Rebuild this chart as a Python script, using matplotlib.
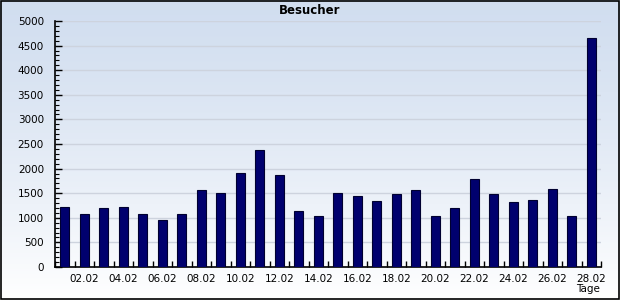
import numpy as np
import matplotlib
matplotlib.use('Agg')
import matplotlib.pyplot as plt
from matplotlib.ticker import MultipleLocator, FixedLocator

# Besucher pro Tag im Februar
days = [f"{d:02d}.02" for d in range(1, 29)]
visitors = [1210, 1070, 1190, 1210, 1070, 965, 1070, 1575, 1495, 1920,
            2370, 1860, 1130, 1030, 1495, 1435, 1350, 1475, 1555, 1030,
            1190, 1780, 1475, 1330, 1370, 1595, 1045, 4655]
y_max = 5000

W, H = 620, 300
fig = plt.figure(figsize=(W / 100, H / 100), dpi=100)

# Hintergrund mit Farbverlauf
bg = fig.add_axes([0, 0, 1, 1], zorder=-1)
grad = np.linspace(0, 1, 256).reshape(-1, 1)
top = np.array([0.82, 0.87, 0.94])
bottom = np.array([1.0, 1.0, 1.0])
img = top + (bottom - top) * grad[..., None] ** 1.3
bg.imshow(img, aspect='auto', extent=[0, 1, 0, 1], origin='upper')
bg.set_xlim(0, 1)
bg.set_ylim(0, 1)
bg.axis('off')
# schwarzer Rahmen
fig.patches.append(plt.Rectangle((0.001, 0.002), 0.997, 0.995, transform=fig.transFigure,
                                 fill=False, edgecolor='black', linewidth=1.2))

ax = fig.add_axes([55 / W, 33 / H, 546 / W, 246 / H])
ax.set_facecolor('none')

x = np.arange(1, len(days) + 1)
ax.bar(x, visitors, width=0.47, color='#00006e', edgecolor='#000030', linewidth=0.8, zorder=3)

ax.set_xlim(0.5, len(days) + 0.5)
ax.set_ylim(0, y_max)

ax.yaxis.set_major_locator(MultipleLocator(500))
ax.yaxis.set_minor_locator(MultipleLocator(100))
ax.grid(axis='y', which='major', color='#cdd3de', linewidth=1.0, zorder=0)

ax.set_xticks(x[1::2])
ax.set_xticklabels(days[1::2])
ax.xaxis.set_minor_locator(FixedLocator(np.arange(0.5, len(days) + 1, 1)))

ax.tick_params(axis='x', which='major', length=0, pad=5, labelsize=7.5, colors='black')
ax.tick_params(axis='x', which='minor', direction='in', length=4, width=1)
ax.tick_params(axis='y', which='major', direction='in', length=5, width=1, pad=8, labelsize=7.5)
ax.tick_params(axis='y', which='minor', direction='in', length=3, width=0.8)

for side in ['top', 'right']:
    ax.spines[side].set_visible(False)
ax.spines['left'].set_linewidth(1.2)
ax.spines['bottom'].set_linewidth(1.2)

fig.text(310 / W, 1 - 10 / H, "Besucher", ha='center', va='center', fontsize=8.5, fontweight='bold')
fig.text(588 / W, 1 - 289 / H, "Tage", ha='center', va='center', fontsize=7.5)

fig.savefig("out.png", dpi=100)
